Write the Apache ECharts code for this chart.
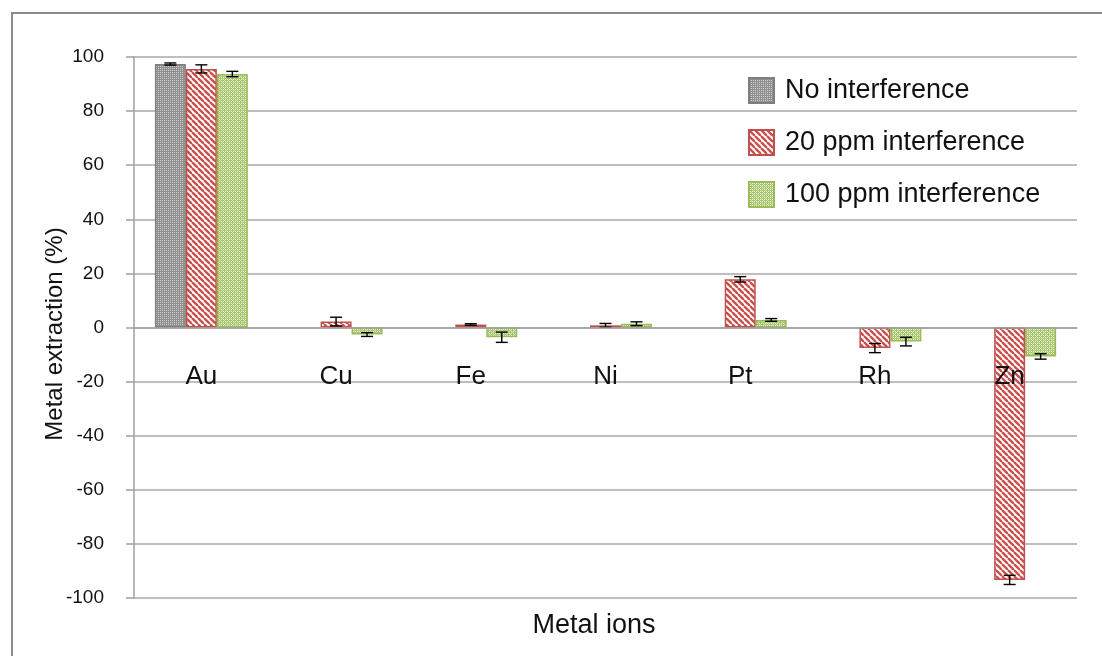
<!DOCTYPE html>
<html>
<head>
<meta charset="utf-8">
<script src="https://cdn.jsdelivr.net/npm/echarts@6/dist/echarts.min.js"></script>
<style>
  html, body { margin: 0; padding: 0; background: #fff; }
  #chart { width: 1102px; height: 656px; }
</style>
</head>
<body>
<div id="chart"></div>
<script>
// ---- Data ----
const categories = ['Au', 'Cu', 'Fe', 'Ni', 'Pt', 'Rh', 'Zn'];
const seriesNames = ['No interference', '20 ppm interference', '100 ppm interference'];
const noInterference = [97.4, null, null, null, null, null, null];
const noInterferenceErr = [0.4, null, null, null, null, null, null];
const ppm20 = [95.6, 2.2, 1.1, 0.8, 17.8, -7.6, -93.3];
const ppm20Err = [1.5, 1.6, 0.3, 0.7, 1.0, 1.7, 1.7];
const ppm100 = [93.7, -2.6, -3.6, 1.4, 2.8, -5.2, -10.7];
const ppm100Err = [1.0, 0.7, 1.9, 0.7, 0.5, 1.6, 1.0];
const yTicks = { min: -100, max: 100, interval: 20 };

const FONT = '"Liberation Sans", Arial, sans-serif';
const BAR_CAT_GAP = 0.31;
const GRID = { left: 134, right: 25, top: 57, bottom: 58 };

// ---- Pattern fills ----
function makePattern(size, draw) {
  const c = document.createElement('canvas');
  c.width = size; c.height = size;
  const ctx = c.getContext('2d');
  draw(ctx, size);
  return { image: c, repeat: 'repeat' };
}
const greyPattern = makePattern(4, (ctx, s) => {
  ctx.fillStyle = '#8e8e8e'; ctx.fillRect(0, 0, s, s);
  ctx.fillStyle = '#d2d2d2';
  ctx.fillRect(0, 0, 1, 1); ctx.fillRect(2, 2, 1, 1);
  ctx.fillRect(2, 0, 1, 1); ctx.fillRect(0, 2, 1, 1);
});
const redPattern = makePattern(6, (ctx, s) => {
  ctx.fillStyle = '#ffffff'; ctx.fillRect(0, 0, s, s);
  ctx.strokeStyle = '#c9504c'; ctx.lineWidth = 2.4;
  for (let k = -1; k <= 1; k++) {
    ctx.beginPath();
    ctx.moveTo(k * s, 0); ctx.lineTo(k * s + s, s);
    ctx.stroke();
  }
});
const greenPattern = makePattern(4, (ctx, s) => {
  ctx.fillStyle = '#a6c56b'; ctx.fillRect(0, 0, s, s);
  ctx.fillStyle = '#eef4df';
  ctx.fillRect(1, 1, 1, 1); ctx.fillRect(3, 3, 1, 1);
  ctx.fillRect(3, 1, 1, 1); ctx.fillRect(1, 3, 1, 1);
  ctx.fillStyle = '#cbdca8';
  ctx.fillRect(2, 2, 1, 1); ctx.fillRect(0, 0, 1, 1);
});

const fills = [greyPattern, redPattern, greenPattern];
const borders = ['#7f7f7f', '#c0504d', '#9bbb59'];
const values = [noInterference, ppm20, ppm100];
const errors = [noInterferenceErr, ppm20Err, ppm100Err];

function errData(vals, errs) {
  const out = [];
  vals.forEach((v, i) => {
    if (v != null && errs[i] != null) out.push([i, v - errs[i], v + errs[i]]);
  });
  return out;
}

function errRenderer(offset) {
  return function (params, api) {
    const x = api.value(0);
    const lo = api.coord([x, api.value(1)]);
    const hi = api.coord([x, api.value(2)]);
    const band = api.size([1, 0])[0];
    const bw = band * (1 - BAR_CAT_GAP) / 3;
    const cx = lo[0] + offset * bw;
    const half = 6;
    const style = { stroke: '#000', lineWidth: 1.4 };
    return {
      type: 'group',
      children: [
        { type: 'line', shape: { x1: cx, y1: lo[1], x2: cx, y2: hi[1] }, style },
        { type: 'line', shape: { x1: cx - half, y1: lo[1], x2: cx + half, y2: lo[1] }, style },
        { type: 'line', shape: { x1: cx - half, y1: hi[1], x2: cx + half, y2: hi[1] }, style }
      ]
    };
  };
}

const series = [];
seriesNames.forEach((name, k) => {
  series.push({
    name: name,
    type: 'bar',
    data: values[k].map(v => (v == null ? '-' : v)),
    barGap: '0%',
    barCategoryGap: (BAR_CAT_GAP * 100) + '%',
    itemStyle: { color: fills[k], borderColor: borders[k], borderWidth: 1.5 },
    z: 2
  });
});
seriesNames.forEach((name, k) => {
  series.push({
    name: name + ' error',
    type: 'custom',
    renderItem: errRenderer(k - 1),
    encode: { x: 0, y: [1, 2] },
    data: errData(values[k], errors[k]),
    z: 5,
    silent: true
  });
});

// place the category axis on the zero line
const plotH = 656 - GRID.top - GRID.bottom;
const zeroOffset = -plotH * (0 - yTicks.min) / (yTicks.max - yTicks.min);

const chart = echarts.init(document.getElementById('chart'), null, { renderer: 'canvas' });
chart.setOption({
  animation: false,
  backgroundColor: '#ffffff',
  textStyle: { fontFamily: FONT },
  grid: Object.assign({ containLabel: false }, GRID),
  legend: {
    orient: 'vertical',
    left: 748,
    top: 77,
    padding: 0,
    icon: 'rect',
    itemWidth: 25,
    itemHeight: 25,
    itemGap: 25,
    data: seriesNames,
    textStyle: { fontSize: 27, lineHeight: 25, color: '#111', fontFamily: FONT, padding: [0, 0, 0, 6] }
  },
  xAxis: {
    type: 'category',
    data: categories,
    offset: zeroOffset,
    z: 10,
    axisLine: { onZero: false, lineStyle: { color: '#a0a0a0', width: 1.5 } },
    axisTick: { show: false },
    axisLabel: { fontSize: 26, color: '#111', margin: 36, fontFamily: FONT },
    splitLine: { show: false }
  },
  yAxis: {
    type: 'value',
    min: yTicks.min,
    max: yTicks.max,
    interval: yTicks.interval,
    axisLine: { show: true, lineStyle: { color: '#a0a0a0', width: 1.5 } },
    axisTick: { show: true, length: 8, lineStyle: { color: '#a0a0a0', width: 1.5 } },
    axisLabel: { fontSize: 19, color: '#111', margin: 30, fontFamily: FONT },
    splitLine: { show: true, lineStyle: { color: '#a8a8a8', width: 1.5 } }
  },
  graphic: [
    {
      type: 'rect',
      shape: { x: 12, y: 13, width: 1100, height: 660 },
      style: { fill: 'none', stroke: '#8a8a8a', lineWidth: 2 },
      silent: true, z: 0
    },
    {
      type: 'text',
      x: 594, y: 626,
      style: {
        text: 'Metal ions', fontSize: 27, fontFamily: FONT, fill: '#111',
        textAlign: 'center', textVerticalAlign: 'middle'
      },
      silent: true
    },
    {
      type: 'text',
      x: 55, y: 334,
      rotation: Math.PI / 2,
      style: {
        text: 'Metal extraction (%)', fontSize: 24, fontFamily: FONT, fill: '#111',
        textAlign: 'center', textVerticalAlign: 'middle'
      },
      silent: true
    }
  ],
  series: series
});
</script>
</body>
</html>
